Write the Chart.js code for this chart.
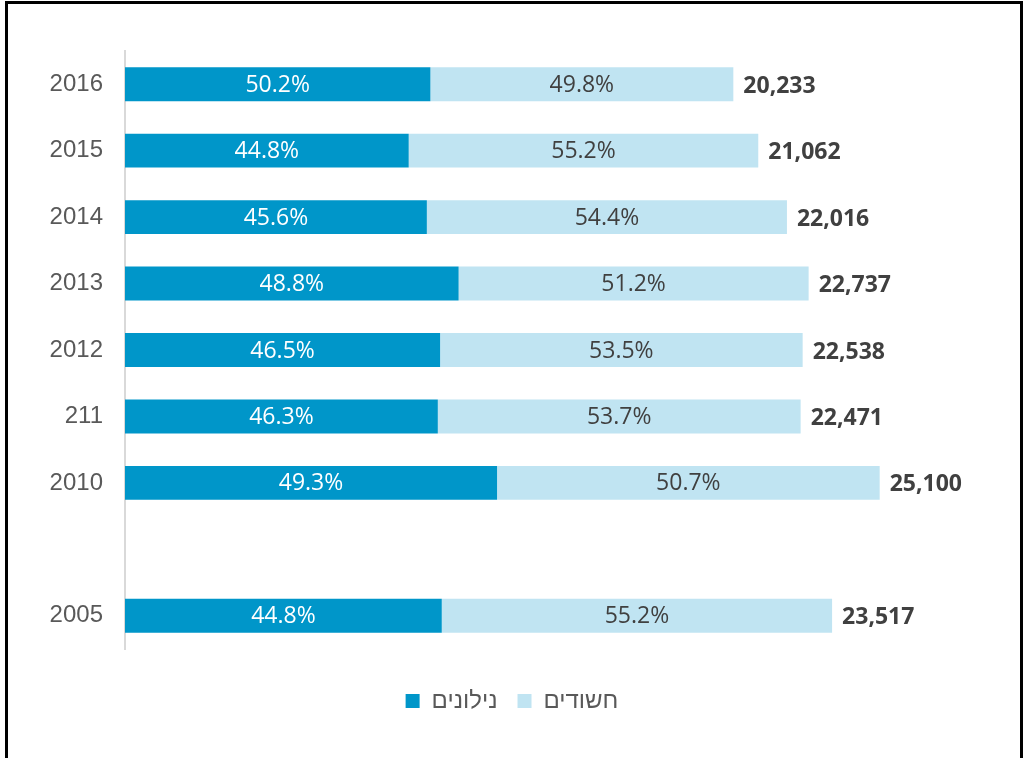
<!DOCTYPE html>
<html>
<head>
<meta charset="utf-8">
<script src="https://cdn.jsdelivr.net/npm/chart.js@4.4.1/dist/chart.umd.min.js"></script>
<style>
  html, body { margin: 0; padding: 0; background: #fff; }
  #wrap { position: relative; width: 1024px; height: 758px; overflow: hidden; }
  #frame { position: absolute; left: 5px; top: 1px; width: 1012px; height: 800px;
           border: 3px solid #000; pointer-events: none; }
  canvas { position: absolute; left: 0; top: 0; }
</style>
</head>
<body>
<div id="wrap">
  <canvas id="grafico" width="1024" height="758"></canvas>
  <div id="frame"></div>
</div>
<script>
// שנים (הקטגוריה הריקה היא הרווח בין 2010 ל-2005)
const anios = ["2016", "2015", "2014", "2013", "2012", "211", "2010", "", "2005"];
const totales = [20233, 21062, 22016, 22737, 22538, 22471, 25100, null, 23517];
const pctNilonim = [50.2, 44.8, 45.6, 48.8, 46.5, 46.3, 49.3, null, 44.8];
const pctChashudim = [49.8, 55.2, 54.4, 51.2, 53.5, 53.7, 50.7, null, 55.2];

const valNilonim = totales.map((t, i) => t === null ? null : t * pctNilonim[i] / 100);
const valChashudim = totales.map((t, i) => t === null ? null : t * pctChashudim[i] / 100);

const etiquetas = {
  id: "etiquetas",
  afterDatasetsDraw(chart) {
    const ctx = chart.ctx;
    ctx.save();
    ctx.textBaseline = "middle";
    chart.data.datasets.forEach((ds, di) => {
      const meta = chart.getDatasetMeta(di);
      meta.data.forEach((bar, i) => {
        if (ds.data[i] === null) return;
        const pct = di === 0 ? pctNilonim[i] : pctChashudim[i];
        ctx.font = "23px 'Open Sans', sans-serif";
        ctx.fillStyle = di === 0 ? "#ffffff" : "#404040";
        ctx.textAlign = "center";
        ctx.fillText(pct.toFixed(1) + "%", (bar.x + bar.base) / 2, bar.y + 1);
        if (di === 1) {
          ctx.font = "bold 23px 'Open Sans', sans-serif";
          ctx.textAlign = "left";
          ctx.fillText(totales[i].toLocaleString("en-US"), bar.x + 10, bar.y + 2);
        }
      });
    });
    ctx.restore();
  }
};

new Chart(document.getElementById("grafico"), {
  type: "bar",
  data: {
    labels: anios,
    datasets: [
      { label: "נילונים", data: valNilonim, backgroundColor: "#0096c9" },
      { label: "חשודים", data: valChashudim, backgroundColor: "#c0e4f2" }
    ]
  },
  options: {
    indexAxis: "y",
    responsive: false,
    animation: false,
    events: [],
    datasets: { bar: { categoryPercentage: 1, barPercentage: 0.51 } },
    layout: { padding: { left: 0, top: 51, right: 0, bottom: 35 } },
    scales: {
      x: {
        stacked: true, min: 0, max: 29900,
        grid: { display: false }, border: { display: false },
        ticks: { display: false },
        afterFit: s => { s.height = 20; }
      },
      y: {
        stacked: true,
        grid: { display: false, drawTicks: false },
        border: { display: true, color: "#d9d9d9", width: 2 },
        ticks: { color: "#595959", font: { family: "'Liberation Sans', Arial", size: 24 }, padding: 22 },
        afterFit: s => { s.width = 125; }
      }
    },
    plugins: {
      legend: {
        position: "bottom",
        labels: {
          boxWidth: 14, boxHeight: 14, padding: 20,
          color: "#595959",
          font: { family: "'Liberation Sans', Arial", size: 24 }
        }
      },
      tooltip: { enabled: false }
    }
  },
  plugins: [etiquetas]
});
</script>
</body>
</html>
